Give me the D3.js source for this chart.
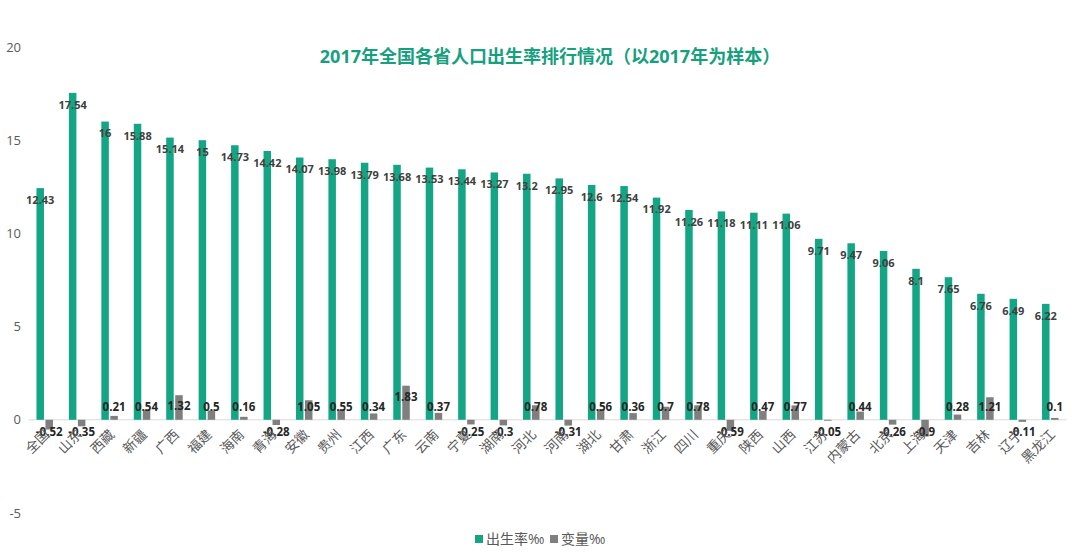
<!DOCTYPE html>
<html><head><meta charset="utf-8">
<script src="https://cdn.jsdelivr.net/npm/d3@7"></script>
<style>
body{margin:0;background:#fff;}
svg{display:block;font-family:"Open Sans","Noto Sans CJK SC",sans-serif;}
</style></head>
<body><svg id="c" width="1080" height="559"></svg>
<script>
const categories = ["全国","山东","西藏","新疆","广西","福建","海南","青海","安徽","贵州","江西","广东","云南","宁夏","湖南","河北","河南","湖北","甘肃","浙江","四川","重庆","陕西","山西","江苏","内蒙古","北京","上海","天津","吉林","辽宁","黑龙江"];
const birthRate = [12.43,17.54,16,15.88,15.14,15,14.73,14.42,14.07,13.98,13.79,13.68,13.53,13.44,13.27,13.2,12.95,12.6,12.54,11.92,11.26,11.18,11.11,11.06,9.71,9.47,9.06,8.1,7.65,6.76,6.49,6.22];
const change = [-0.52,-0.35,0.21,0.54,1.32,0.5,0.16,-0.28,1.05,0.55,0.34,1.83,0.37,-0.25,-0.3,0.78,-0.31,0.56,0.36,0.7,0.78,-0.59,0.47,0.77,-0.05,0.44,-0.26,-0.9,0.28,1.21,-0.11,0.1];
const yTicks = [-5,0,5,10,15,20];
const seriesNames = ["出生率‰","变量‰"];
const colors = ["#14a585","#7f7f7f"];
const title = "2017年全国各省人口出生率排行情况（以2017年为样本）";

const svg = d3.select("#c");
const x = d3.scaleBand().domain(categories).range([28.5, 1066.5]).padding(0);
const y = d3.scaleLinear().domain([-5,20]).range([513,47]);
const bw = 7.5, gap = 1.5;

svg.append("g").selectAll("text").data(yTicks).join("text")
  .attr("x",21).attr("y",d=>y(d)).attr("dy","0.35em").attr("text-anchor","end")
  .attr("font-size",13).attr("fill","#595959").text(d=>d);

svg.append("line").attr("x1",28.5).attr("x2",1066.5).attr("y1",y(0)).attr("y2",y(0))
  .attr("stroke","#d9d9d9").attr("stroke-width",1);

svg.append("g").selectAll("rect").data(categories).join("rect")
  .attr("x",(d)=>x(d)+x.bandwidth()/2-gap/2-bw)
  .attr("width",bw)
  .attr("y",(d,i)=>y(birthRate[i]))
  .attr("height",(d,i)=>y(0)-y(birthRate[i]))
  .attr("fill",colors[0]);

svg.append("g").selectAll("rect").data(categories).join("rect")
  .attr("x",(d)=>x(d)+x.bandwidth()/2+gap/2)
  .attr("width",bw)
  .attr("y",(d,i)=>y(Math.max(0,change[i])))
  .attr("height",(d,i)=>Math.abs(y(change[i])-y(0)))
  .attr("fill",colors[1]);

svg.append("g").selectAll("text").data(categories).join("text")
  .attr("x",(d)=>x(d)+x.bandwidth()/2-gap/2-bw/2)
  .attr("y",(d,i)=>y(birthRate[i])+12).attr("dy","0.35em")
  .attr("text-anchor","middle").attr("font-size",11).attr("font-weight","bold")
  .attr("fill","#404040").text((d,i)=>birthRate[i]);

svg.append("g").selectAll("text").data(categories).join("text")
  .attr("x",(d)=>x(d)+x.bandwidth()/2+gap/2+bw/2)
  .attr("y",(d,i)=>{
    const v=change[i];
    if(v>=0) return Math.min(y(v)+11, y(0)-13);
    return Math.max(y(v)-11, y(0)+12);
  }).attr("dy","0.35em")
  .attr("text-anchor","middle").attr("font-size",11.5).attr("font-weight","bold")
  .attr("fill","#262626").text((d,i)=>change[i]);

svg.append("g").selectAll("text").data(categories).join("text")
  .attr("transform",d=>`translate(${x(d)+x.bandwidth()/2-1},${y(0)+9}) rotate(-45)`)
  .attr("text-anchor","end").attr("dy","0.7em")
  .attr("font-size",13.5).attr("fill","#595959").text(d=>d);

svg.append("text").attr("x",550).attr("y",57).attr("dy","0.35em").attr("text-anchor","middle")
  .attr("font-size",18).attr("font-weight","bold").attr("fill","#17a07e").text(title);

const lg = svg.append("g");
const legendX = [475,550];
seriesNames.forEach((n,i)=>{
  lg.append("rect").attr("x",legendX[i]).attr("y",535).attr("width",8).attr("height",8).attr("fill",colors[i]);
  lg.append("text").attr("x",legendX[i]+11).attr("y",539).attr("dy","0.35em")
    .attr("font-size",14).attr("fill","#595959").text(n);
});
</script></body></html>
